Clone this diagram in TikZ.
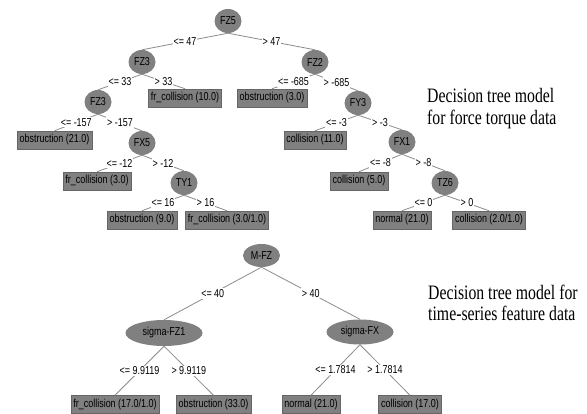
\documentclass[tikz,border=0pt]{standalone}
\usepackage{fontspec}
\setmainfont{Liberation Serif}[FakeStretch=0.77]
\newfontfamily\lblfont{Liberation Sans}[FakeStretch=0.78]
\usetikzlibrary{shapes.geometric}
\definecolor{nodegray}{HTML}{808080}
\definecolor{edgegray}{HTML}{8C8C8C}
\definecolor{boxborder}{HTML}{666666}
\begin{document}
\begin{tikzpicture}[x=1pt,y=-1pt,
  lf/.style={font=\lblfont\fontsize{11.5}{13}\selectfont},
  inode/.style={lf, ellipse, fill=nodegray, draw=none, inner sep=0pt, minimum width=27pt, minimum height=24pt},
  leaf/.style={lf, rectangle, fill=nodegray, draw=boxborder, line width=0.5pt, inner xsep=2.5pt, inner ysep=0pt, minimum height=18pt},
  elab/.style={lf, fill=white, inner sep=1pt},
  edge/.style={draw=edgegray, line width=0.8pt},
  caption/.style={font=\fontsize{20.5}{22}\selectfont, anchor=base west, inner sep=0pt}
]
\useasboundingbox[fill=white] (0,0) rectangle (587,414);

% ---------- top tree ----------
\node[inode] (fz5) at (228,21) {FZ5};
\node[inode] (fz3a) at (142,62) {FZ3};
\node[inode] (fz2) at (315,62) {FZ2};
\node[inode] (fz3b) at (98,102) {FZ3};
\node[leaf] (l1) at (185,98) {fr\_collision (10.0)};
\node[leaf] (l2) at (272,98) {obstruction (3.0)};
\node[inode] (fy3) at (358,103) {FY3};
\node[leaf] (l3) at (54.5,140) {obstruction (21.0)};
\node[inode] (fx5) at (142,143) {FX5};
\node[leaf] (l4) at (315,140) {collision (11.0)};
\node[inode] (fx1) at (402,142) {FX1};
\node[leaf] (l5) at (97,181) {fr\_collision (3.0)};
\node[inode] (ty1) at (184,183) {TY1};
\node[leaf] (l6) at (359,181) {collision (5.0)};
\node[inode] (tz6) at (445,183) {TZ6};
\node[leaf] (l7) at (142,220) {obstruction (9.0)};
\node[leaf] (l8) at (227,220) {fr\_collision (3.0/1.0)};
\node[leaf] (l9) at (402,220) {normal (21.0)};
\node[leaf] (l10) at (489,220) {collision (2.0/1.0)};

\draw[edge] (fz5.south) -- node[elab] {<= 47} (fz3a.north);
\draw[edge] (fz5.south) -- node[elab] {> 47} (fz2.north);
\draw[edge] (fz3a.south) -- node[elab] {<= 33} (fz3b.north);
\draw[edge] (fz3a.south) -- node[elab] {> 33} (l1.north);
\draw[edge] (fz2.south) -- node[elab] {<= -685} (l2.north);
\draw[edge] (fz2.south) -- node[elab] {> -685} (fy3.north);
\draw[edge] (fz3b.south) -- node[elab] {<= -157} (l3.north);
\draw[edge] (fz3b.south) -- node[elab] {> -157} (fx5.north);
\draw[edge] (fy3.south) -- node[elab] {<= -3} (l4.north);
\draw[edge] (fy3.south) -- node[elab] {> -3} (fx1.north);
\draw[edge] (fx5.south) -- node[elab] {<= -12} (l5.north);
\draw[edge] (fx5.south) -- node[elab] {> -12} (ty1.north);
\draw[edge] (fx1.south) -- node[elab] {<= -8} (l6.north);
\draw[edge] (fx1.south) -- node[elab] {> -8} (tz6.north);
\draw[edge] (ty1.south) -- node[elab] {<= 16} (l7.north);
\draw[edge] (ty1.south) -- node[elab] {> 16} (l8.north);
\draw[edge] (tz6.south) -- node[elab] {<= 0} (l9.north);
\draw[edge] (tz6.south) -- node[elab] {> 0} (l10.north);

\node[caption] (c1) at (427,102.5) {Decision tree model};
\node[caption] (c2) at (427,125) {for force torque data};

% ---------- bottom tree ----------
\node[inode, minimum width=37pt, minimum height=23pt] (mfz) at (261.5,255.5) {M-FZ};
\node[inode, minimum width=77pt, minimum height=26pt] (sfz1) at (164,333) {sigma-FZ1};
\node[inode, minimum width=67pt, minimum height=25pt] (sfx) at (360,332) {sigma-FX};
\node[leaf] (b1) at (115,404.5) {fr\_collision (17.0/1.0)};
\node[leaf] (b2) at (213.5,404.5) {obstruction (33.0)};
\node[leaf] (b3) at (311,404.5) {normal (21.0)};
\node[leaf] (b4) at (410,404.5) {collision (17.0)};

\draw[edge] (mfz.south) -- node[elab] {<= 40} (sfz1.north);
\draw[edge] (mfz.south) -- node[elab] {> 40} (sfx.north);
\draw[edge] (sfz1.south) -- node[elab] {<= 9.9119} (b1.north);
\draw[edge] (sfz1.south) -- node[elab] {> 9.9119} (b2.north);
\draw[edge] (sfx.south) -- node[elab] {<= 1.7814} (b3.north);
\draw[edge] (sfx.south) -- node[elab] {> 1.7814} (b4.north);

\node[caption] (c3) at (428,299.5) {Decision tree model for};
\node[caption] (c4) at (428,321) {time-series feature data};
\end{tikzpicture}
\end{document}
